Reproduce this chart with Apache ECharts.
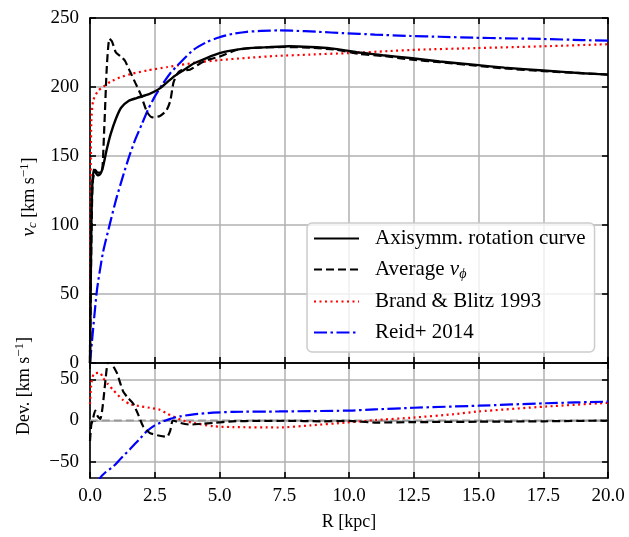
<!DOCTYPE html>
<html>
<head>
<meta charset="utf-8">
<script src="https://cdn.jsdelivr.net/npm/echarts@6/dist/echarts.min.js"></script>
<style>
html,body{margin:0;padding:0;background:#fff;}
#chart{width:629px;height:537px;}
</style>
</head>
<body>
<div id="chart"></div>
<script>
// ---- data ----
var xTicks = [0, 2.5, 5, 7.5, 10, 12.5, 15, 17.5, 20];
var vTicks = [0, 50, 100, 150, 200, 250];
var devTicks = [-50, 0, 50];
var seriesNames = ['Axisymm. rotation curve', 'Average vphi', 'Brand & Blitz 1993', 'Reid+ 2014'];

// top panel: [R (kpc), v (km/s)]
var axisymm = [[0,0],[0.04,80],[0.08,125],[0.15,140],[0.3,136],[0.4,137],[0.5,142],[0.65,155],[0.8,166],[1.0,177],[1.2,185],[1.5,190],[1.8,192],[2.3,195],[2.7,199],[3.2,207],[3.6,212],[4.0,217],[4.5,221],[5.0,224.5],[5.5,226.5],[6.0,228],[7.0,229],[7.7,229.5],[8.5,229],[9.3,228],[10.4,225],[11.3,223],[12.35,221],[13.5,218.5],[14.9,216],[16,214],[17.5,212],[19,210],[20,209]];
var avgVphi = [[0,0],[0.04,70],[0.1,130],[0.2,140],[0.3,138],[0.45,138],[0.55,170],[0.65,215],[0.75,235],[0.85,233],[1.0,225],[1.2,222],[1.35,219],[1.55,211],[1.75,203],[1.95,195],[2.2,182],[2.4,178],[2.7,179],[2.95,183],[3.1,190],[3.22,203],[3.35,209],[3.5,212],[3.85,212.5],[4.25,217],[4.6,220],[5.0,222],[5.7,227],[6.5,228.5],[7.5,229],[8.5,228.5],[9.5,227],[10.4,224],[11.3,222.5],[12.35,220],[13.5,218],[14.9,215.5],[16,213.5],[17.5,211.5],[19,210],[20,209]];
var brandBlitz = [[0,0],[0.02,120],[0.05,175],[0.12,190],[0.3,197],[0.5,200],[0.8,204],[1.16,207],[1.6,209.5],[2.2,212],[3.0,214.5],[3.5,216],[4.2,218],[5.0,219.5],[6.0,221],[7.2,222.5],[8.5,223.5],[10.0,224.6],[11.5,226],[12.6,227],[14.9,228.2],[17.5,229.5],[20,231]];
var reid = [[0,0],[0.07,14.5],[0.27,53],[0.5,80],[0.77,101],[1.0,118],[1.25,134],[1.5,149],[1.75,162],[2.0,173],[2.25,184],[2.5,193],[2.8,202],[3.1,210],[3.5,218],[4.0,227],[4.5,232.5],[5.0,236],[5.5,238.5],[6.06,240],[6.6,240.6],[7.3,241],[7.8,240.8],[8.8,240],[9.8,239],[11,238],[12.35,237],[13.5,236.4],[14.9,235.7],[16,235.3],[17.5,234.8],[19,234],[20,233.6]];

// bottom panel: deviations [R, dev]
var devZero = [[0,0],[20,0]];
var devAvg = [[0,-25],[0.05,-5],[0.1,0],[0.2,12],[0.3,5],[0.4,2],[0.5,20],[0.6,50],[0.7,72],[0.8,72],[0.9,66],[1.05,57],[1.27,36],[1.45,28],[1.66,21],[1.85,8],[2.05,-7],[2.3,-15],[2.6,-18],[2.97,-20],[3.1,-12],[3.2,0],[3.5,-3],[3.86,-5],[4.3,-4],[4.75,-3],[5.5,-1],[6.5,-0.5],[7.5,-0.3],[9,-1],[10,-0.5],[11,-2.5],[12.5,-2],[15,-1.5],[17.5,-1],[20,0]];
var devBB = [[0,20],[0.05,45],[0.15,57],[0.39,58],[0.5,52],[0.7,44],[0.9,37],[1.27,25],[1.54,20],[2.0,17],[2.4,15],[2.7,13],[3.0,8],[3.2,5],[3.6,0],[4.0,-3],[4.75,-7],[5.5,-8],[7.3,-8.5],[8.5,-6],[9.9,-2.5],[11,0.5],[12.5,3.6],[14,7.5],[15,11],[17.6,17],[20,21.5]];
var devReid = [[0,-100],[0.39,-70],[0.6,-63],[0.9,-56],[1.2,-46],[1.54,-35],[1.9,-23],[2.2,-13],[2.5,-6],[2.8,-1.5],[3.1,2],[3.47,5],[4.0,7.5],[4.75,9.5],[5.5,10.5],[7.3,11],[9.9,12],[11,13.5],[12.5,15.5],[15,18],[17.6,21],[20,23]];

// ---- styling ----
var FONT = 'Liberation Serif';
var TICK_FS = 19;
var LEG_FS = 21;
var TITLE_FS = 18;
var GRID_C = '#b0b0b0';
var styles = [
  {color:'#000000', type:'solid'},
  {color:'#000000', type:[8,4]},
  {color:'#ff0000', type:[2,3.5]},
  {color:'#0000ff', type:[13,3.5,2.5,3.5]}
];

function xAxisDef(gridIndex, position, showLabel, showSplit) {
  return {
    type:'value', gridIndex:gridIndex, position:position, min:0, max:20, interval:2.5,
    axisLine:{show:true, onZero:false, lineStyle:{color:'#000', width:1.6}},
    axisTick:{show:true, inside:true, length:6, lineStyle:{color:'#000', width:1.6}},
    axisLabel:{show:showLabel, margin:9, color:'#000', fontFamily:FONT, fontSize:TICK_FS,
      formatter:function(v){return v.toFixed(1);}},
    splitLine:{show:showSplit, lineStyle:{color:GRID_C, width:1.5}}
  };
}
function yAxisDef(gridIndex, position, min, max, ticks, showLabel, showSplit) {
  return {
    type:'value', gridIndex:gridIndex, position:position, min:min, max:max,
    axisLine:{show:true, onZero:false, lineStyle:{color:'#000', width:1.6}},
    axisTick:{show:true, inside:true, length:6, customValues:ticks, lineStyle:{color:'#000', width:1.6}},
    axisLabel:{show:showLabel, margin:11, customValues:ticks, color:'#000', fontFamily:FONT, fontSize:TICK_FS,
      formatter:function(v){return v < 0 ? '\u2212' + Math.abs(v) : String(v);}},
    splitLine:{show:showSplit, lineStyle:{color:GRID_C, width:1.5}}
  };
}

function lineSeries(name, data, st, xi, yi, z, w) {
  return {
    type:'line', name:name, data:data, xAxisIndex:xi, yAxisIndex:yi,
    showSymbol:false, symbol:'none', smooth:0.2, clip:true, z:z||3,
    lineStyle:{color:st.color, type:st.type, width:w||2.2},
    itemStyle:{color:st.color},
    emphasis:{disabled:true}, animation:false
  };
}

var chart = echarts.init(document.getElementById('chart'), null, {renderer:'canvas'});
var option = {
  animation:false,
  backgroundColor:'#ffffff',
  grid:[
    {left:90, top:18, width:518, height:345},
    {left:90, top:363, width:518, height:115}
  ],
  xAxis:[
    xAxisDef(0,'bottom',false,true),
    xAxisDef(0,'top',false,false),
    xAxisDef(1,'bottom',true,true),
    xAxisDef(1,'top',false,false)
  ],
  yAxis:[
    yAxisDef(0,'left',0,250,vTicks,true,true),
    yAxisDef(0,'right',0,250,vTicks,false,false),
    yAxisDef(1,'left',-70,70,devTicks,true,true),
    yAxisDef(1,'right',-70,70,devTicks,false,false)
  ],
  legend:{
    data:seriesNames,
    orient:'vertical', left:307, top:223,
    itemWidth:45, itemHeight:14, itemGap:10,
    padding:[5,9,9,6],
    borderColor:'#cccccc', borderWidth:1.5, borderRadius:5,
    backgroundColor:'rgba(255,255,255,0.8)',
    itemStyle:{opacity:0},
    selectedMode:false,
    textStyle:{fontFamily:FONT, fontSize:LEG_FS, color:'#000', padding:[0,0,0,11],
      rich:{
        i:{fontFamily:FONT, fontSize:LEG_FS, fontStyle:'italic', color:'#000'},
        s:{fontFamily:FONT, fontSize:14, fontStyle:'italic', color:'#000', padding:[9,0,0,0]}
      }},
    formatter:function(n){ return n === 'Average vphi' ? 'Average {i|v}{s|\u03d5}' : n; }
  },
  graphic:[
    {type:'text', x:349, y:522, style:{text:'R [kpc]', font:TITLE_FS + 'px "Liberation Serif"', fill:'#000', align:'center', verticalAlign:'middle'}},
    {type:'text', x:29, y:197, rotation:Math.PI/2,
      style:{text:'{i|v}{s|c} [km s{p|\u22121}]', fill:'#000', align:'center', verticalAlign:'middle',
        rich:{
          i:{fontFamily:FONT, fontSize:TITLE_FS + 1, fontStyle:'italic'},
          s:{fontFamily:FONT, fontSize:13, fontStyle:'italic', padding:[8,0,0,0]},
          p:{fontFamily:FONT, fontSize:13, padding:[0,0,8,0]}
        }, fontFamily:FONT, fontSize:TITLE_FS}},
    {type:'text', x:24, y:386, rotation:Math.PI/2,
      style:{text:'Dev. [km s{p|\u22121}]', fill:'#000', align:'center', verticalAlign:'middle',
        rich:{ p:{fontFamily:FONT, fontSize:13, padding:[0,0,8,0]} }, fontFamily:FONT, fontSize:TITLE_FS}}
  ],
  series:[
    lineSeries(seriesNames[0], axisymm, styles[0], 0, 0, 5, 2.4),
    lineSeries(seriesNames[1], avgVphi, styles[1], 0, 0, 5),
    lineSeries(seriesNames[2], brandBlitz, styles[2], 0, 0, 4),
    lineSeries(seriesNames[3], reid, styles[3], 0, 0, 4),
    lineSeries('zero', devZero, {color:'#999999', type:[8,4]}, 2, 2, 3, 2),
    lineSeries(seriesNames[1], devAvg, styles[1], 2, 2, 5),
    lineSeries(seriesNames[2], devBB, styles[2], 2, 2, 4),
    lineSeries(seriesNames[3], devReid, styles[3], 2, 2, 4)
  ]
};
chart.setOption(option);
</script>
</body>
</html>
